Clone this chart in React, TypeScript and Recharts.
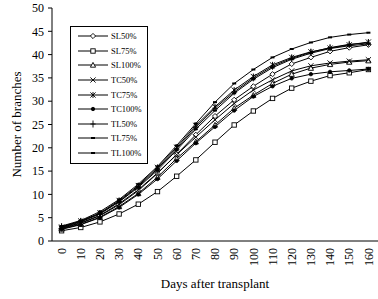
import React from 'react';
import { LineChart, Line, XAxis, YAxis, Legend } from 'recharts';

const days = [0, 10, 20, 30, 40, 50, 60, 70, 80, 90, 100, 110, 120, 130, 140, 150, 160];
const dayEdges = [-5, 5, 15, 25, 35, 45, 55, 65, 75, 85, 95, 105, 115, 125, 135, 145, 155, 165];
const yTicks = [0, 5, 10, 15, 20, 25, 30, 35, 40, 45, 50];

const sl50 = [2.7, 3.8, 5.4, 7.8, 10.8, 14.5, 18.6, 22.8, 26.8, 30.3, 33.2, 35.8, 38.0, 39.4, 40.7, 41.5, 42.1];
const sl75 = [2.2, 2.9, 4.1, 5.8, 7.9, 10.6, 13.9, 17.4, 21.2, 24.9, 27.9, 30.6, 32.8, 34.3, 35.5, 36.1, 36.8];
const sl100 = [2.6, 3.6, 5.1, 7.4, 10.2, 13.7, 17.7, 21.3, 24.9, 28.5, 31.3, 33.8, 35.8, 37.1, 37.9, 38.4, 38.7];
const tc50 = [2.8, 3.9, 5.5, 8.0, 11.0, 14.6, 18.5, 22.3, 26.0, 29.5, 32.4, 34.6, 36.5, 37.6, 38.2, 38.6, 38.9];
const tc75 = [3.0, 4.3, 6.0, 8.7, 11.9, 15.8, 20.1, 24.8, 28.8, 32.4, 35.3, 37.8, 39.4, 40.6, 41.4, 42.1, 42.7];
const tc100 = [2.5, 3.5, 5.0, 7.2, 10.0, 13.3, 17.2, 21.0, 24.5, 28.0, 31.0, 33.2, 34.9, 35.8, 36.3, 36.6, 36.9];
const tl50 = [3.1, 4.2, 5.9, 8.5, 11.7, 15.5, 19.8, 24.4, 28.5, 32.0, 35.0, 37.5, 39.2, 40.5, 41.5, 42.2, 42.5];
const tl75 = [2.9, 4.1, 5.8, 8.4, 11.5, 15.2, 19.5, 24.0, 28.0, 31.7, 34.7, 37.2, 39.0, 40.3, 41.3, 41.9, 42.3];
const tl100 = [3.2, 4.4, 6.3, 8.9, 12.2, 16.0, 20.5, 25.2, 29.8, 33.8, 36.8, 39.4, 41.2, 42.6, 43.7, 44.3, 44.7];

const series = [
  { key: 'SL50%', values: sl50, marker: 'diamond' },
  { key: 'SL75%', values: sl75, marker: 'square' },
  { key: 'SL100%', values: sl100, marker: 'triangle' },
  { key: 'TC50%', values: tc50, marker: 'x' },
  { key: 'TC75%', values: tc75, marker: 'star' },
  { key: 'TC100%', values: tc100, marker: 'circle' },
  { key: 'TL50%', values: tl50, marker: 'plus' },
  { key: 'TL75%', values: tl75, marker: 'dash' },
  { key: 'TL100%', values: tl100, marker: 'bar' },
];

const data = days.map((d, i) => {
  const row: Record<string, number> = { day: d };
  series.forEach(s => { row[s.key] = s.values[i]; });
  return row;
});

const FONT = '"Liberation Serif", "Times New Roman", serif';

const Marker = ({ kind, cx, cy }: { kind: string; cx: number; cy: number }) => {
  const st = { stroke: '#000', strokeWidth: 0.9 };
  switch (kind) {
    case 'diamond':
      return <path d={`M${cx},${cy - 2.6}L${cx + 2.6},${cy}L${cx},${cy + 2.6}L${cx - 2.6},${cy}Z`} fill="#fff" {...st} />;
    case 'square':
      return <rect x={cx - 2.2} y={cy - 2.2} width={4.4} height={4.4} fill="#fff" {...st} />;
    case 'triangle':
      return <path d={`M${cx},${cy - 2.6}L${cx + 2.6},${cy + 2.2}L${cx - 2.6},${cy + 2.2}Z`} fill="#fff" {...st} />;
    case 'x':
      return <path d={`M${cx - 2.6},${cy - 2.6}L${cx + 2.6},${cy + 2.6}M${cx - 2.6},${cy + 2.6}L${cx + 2.6},${cy - 2.6}`} fill="none" {...st} />;
    case 'star':
      return <path d={`M${cx - 2.6},${cy - 2.6}L${cx + 2.6},${cy + 2.6}M${cx - 2.6},${cy + 2.6}L${cx + 2.6},${cy - 2.6}M${cx},${cy - 3}L${cx},${cy + 3}`} fill="none" {...st} />;
    case 'circle':
      return <circle cx={cx} cy={cy} r={1.7} fill="#000" {...st} />;
    case 'plus':
      return <path d={`M${cx - 2.6},${cy}L${cx + 2.6},${cy}M${cx},${cy - 3.5}L${cx},${cy + 3.5}`} fill="none" {...st} />;
    case 'dash':
      return <path d={`M${cx - 2},${cy}L${cx + 2},${cy}`} fill="none" stroke="#000" strokeWidth={2} />;
    default:
      return <rect x={cx - 2} y={cy - 1} width={4} height={2} fill="#000" />;
  }
};

const DayTick = ({ x, y, payload }: any) => (
  <text
    x={x}
    y={y}
    transform={`rotate(-90, ${x}, ${y})`}
    textAnchor="end"
    dy="0.35em"
    fontSize={12}
    fontFamily={FONT}
    fill="#000"
  >
    {payload.value}
  </text>
);

// legend keeps the series order, not the sorted payload
const LegendBox = () => (
  <div
    style={{
      border: '1px solid #000',
      background: '#fff',
      width: 76,
      padding: '2px 0 3px',
      fontFamily: FONT,
      fontSize: 8.5,
    }}
  >
    {series.map(s => (
      <div key={s.key} style={{ display: 'flex', alignItems: 'center', height: 14.6 }}>
        <svg width={36} height={10} style={{ marginLeft: 4 }}>
          <line x1={3} y1={5} x2={33} y2={5} stroke="#000" strokeWidth={1} />
          <Marker kind={s.marker} cx={18} cy={5} />
        </svg>
        <span style={{ color: '#000' }}>{s.key}</span>
      </div>
    ))}
  </div>
);

export default function App() {
  return (
    <div style={{ position: 'absolute', left: 0, top: 0, background: '#fff' }}>
      <LineChart width={378} height={299} data={data} margin={{ top: 8, right: 0, bottom: 0, left: 0 }}>
        <XAxis
          xAxisId="b"
          dataKey="day"
          type="number"
          domain={[-5, 165]}
          ticks={days}
          interval={0}
          axisLine={false}
          tickLine={false}
          tickSize={4}
          tickMargin={2}
          height={57}
          tick={<DayTick />}
          label={{
            value: 'Days after transplant',
            position: 'insideBottom',
            offset: 11,
            fontSize: 13,
            fontFamily: FONT,
            fill: '#000',
          }}
        />
        <XAxis
          xAxisId="a"
          dataKey="day"
          type="number"
          domain={[-5, 165]}
          ticks={dayEdges}
          interval={0}
          tick={false}
          tickSize={4}
          height={1}
          stroke="#000"
          axisLine={{ stroke: '#000' }}
          tickLine={{ stroke: '#000' }}
        />
        <YAxis
          domain={[0, 50]}
          ticks={yTicks}
          width={52}
          tickSize={4}
          tickMargin={4}
          interval={0}
          stroke="#000"
          tick={{ fontSize: 12, fontFamily: FONT, fill: '#000' }}
          label={{
            value: 'Number of branches',
            angle: -90,
            position: 'insideLeft',
            offset: 16,
            style: { textAnchor: 'middle' },
            fontSize: 13,
            fontFamily: FONT,
            fill: '#000',
          }}
        />
        <Legend
          layout="vertical"
          verticalAlign="middle"
          align="center"
          content={<LegendBox />}
          wrapperStyle={{ left: 70, top: 26, width: 78 }}
        />
        {series.map(s => (
          <Line
            key={s.key}
            xAxisId="b"
            dataKey={s.key}
            name={s.key}
            stroke="#000"
            strokeWidth={1}
            type="linear"
            isAnimationActive={false}
            dot={(p: any) => <Marker key={`${s.key}-${p.index}`} kind={s.marker} cx={p.cx} cy={p.cy} />}
          />
        ))}
      </LineChart>
    </div>
  );
}
